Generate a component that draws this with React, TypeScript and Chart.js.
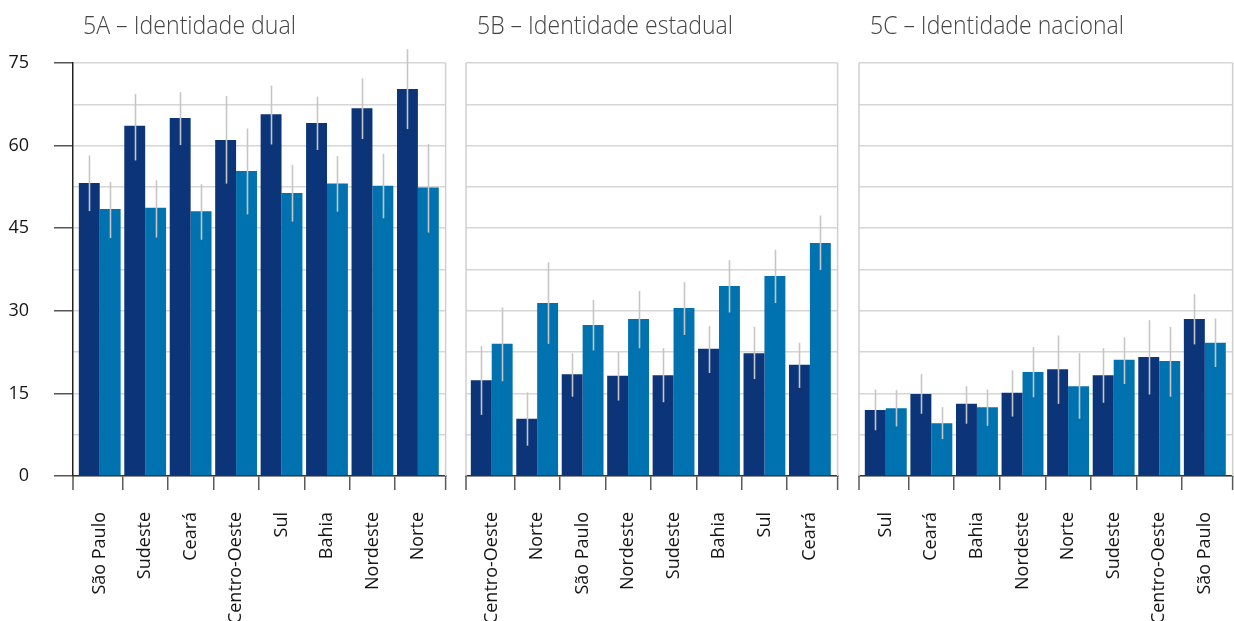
import React, { useEffect, useLayoutEffect, useRef } from 'react';
import { Chart, registerables, CategoryScale } from 'chart.js';

Chart.register(...registerables);

// Category scale whose categories sit slightly inside the plot frame
class InsetCategoryScale extends (CategoryScale as any) {
  static id = 'insetCategory';
  static defaults = (CategoryScale as any).defaults;
  configure() {
    super.configure();
    const o: any = (this as any).options;
    const l = o.insetLeft || 0;
    const r = o.insetRight || 0;
    (this as any)._startPixel += l;
    (this as any)._endPixel -= r;
    (this as any)._length = (this as any)._endPixel - (this as any)._startPixel;
  }
}
Chart.register(InsetCategoryScale as any);

// ---- Data ----
const dualCategories = ['São Paulo', 'Sudeste', 'Ceará', 'Centro-Oeste', 'Sul', 'Bahia', 'Nordeste', 'Norte'];
const dualDark = [53.2, 63.6, 65.0, 61.0, 65.7, 64.1, 66.8, 70.3];
const dualDarkErr = [[48.1, 58.2], [57.3, 69.4], [60.1, 69.7], [53.1, 69.0], [60.2, 70.9], [59.2, 68.9], [61.2, 72.2], [63.0, 77.5]];
const dualLight = [48.5, 48.7, 48.1, 55.4, 51.4, 53.1, 52.7, 52.4];
const dualLightErr = [[43.2, 53.4], [43.3, 53.7], [42.9, 53.0], [47.5, 63.1], [46.2, 56.5], [48.0, 58.1], [46.8, 58.5], [44.2, 60.3]];

const stateCategories = ['Centro-Oeste', 'Norte', 'São Paulo', 'Nordeste', 'Sudeste', 'Bahia', 'Sul', 'Ceará'];
const stateDark = [17.4, 10.4, 18.5, 18.2, 18.3, 23.1, 22.3, 20.2];
const stateDarkErr = [[11.1, 23.6], [5.5, 15.2], [14.4, 22.3], [13.7, 22.6], [13.4, 23.2], [18.7, 27.2], [17.6, 27.1], [16.0, 24.2]];
const stateLight = [24.0, 31.4, 27.4, 28.5, 30.5, 34.5, 36.3, 42.3];
const stateLightErr = [[17.2, 30.6], [24.0, 38.8], [22.8, 32.0], [23.2, 33.6], [25.6, 35.2], [29.7, 39.2], [31.4, 41.1], [37.4, 47.3]];

const nationalCategories = ['Sul', 'Ceará', 'Bahia', 'Nordeste', 'Norte', 'Sudeste', 'Centro-Oeste', 'São Paulo'];
const nationalDark = [12.0, 14.9, 13.1, 15.1, 19.4, 18.3, 21.6, 28.5];
const nationalDarkErr = [[8.3, 15.7], [11.3, 18.5], [9.5, 16.3], [10.8, 19.2], [13.1, 25.5], [13.3, 23.2], [14.8, 28.3], [23.9, 33.0]];
const nationalLight = [12.3, 9.6, 12.5, 18.9, 16.3, 21.1, 20.9, 24.2];
const nationalLightErr = [[9.0, 15.6], [6.7, 12.5], [9.1, 15.7], [14.3, 23.4], [10.4, 22.3], [16.7, 25.2], [14.4, 27.1], [19.8, 28.6]];

const yTickLabels = [0, 15, 30, 45, 60, 75];
const seriesNames = ['Série 1', 'Série 2'];

// ---- Styles ----
const DARK = '#0B3479';
const BLUE = '#0072AF';
const ERR = '#c6c6c6';
const GRID = '#d6d6d6';
const AXIS_TICK = '#5a5a5a';
const FONT = '"Open Sans", "DejaVu Sans", sans-serif';

const errorBarsPlugin = {
  id: 'errorBars',
  afterDatasetsDraw(chart: any, _args: any, opts: any) {
    const errs = opts && opts.errors;
    if (!errs) return;
    const y = chart.scales.y;
    const ctx = chart.ctx;
    ctx.save();
    ctx.strokeStyle = ERR;
    ctx.lineWidth = 1.6;
    errs.forEach((set: number[][], di: number) => {
      const meta = chart.getDatasetMeta(di);
      meta.data.forEach((el: any, i: number) => {
        const e = set[i];
        if (!e) return;
        const x = Math.round(el.x) + 0.5;
        ctx.beginPath();
        ctx.moveTo(x, y.getPixelForValue(e[0]));
        ctx.lineTo(x, y.getPixelForValue(e[1]));
        ctx.stroke();
      });
    });
    ctx.restore();
  },
};

const panelBorderPlugin = {
  id: 'panelBorder',
  afterDatasetsDraw(chart: any, _args: any, opts: any) {
    const { left, right, top, bottom } = chart.chartArea;
    const ctx = chart.ctx;
    ctx.save();
    ctx.strokeStyle = '#cfcfcf';
    ctx.lineWidth = 1.5;
    ctx.beginPath();
    if (opts && opts.left) {
      ctx.moveTo(left, top);
      ctx.lineTo(left, bottom);
    }
    ctx.moveTo(right, top);
    ctx.lineTo(right, bottom);
    ctx.stroke();
    // edge tick marks below the x axis
    ctx.strokeStyle = AXIS_TICK;
    ctx.beginPath();
    ctx.moveTo(left, bottom);
    ctx.lineTo(left, bottom + 14);
    ctx.moveTo(right, bottom);
    ctx.lineTo(right, bottom + 14);
    ctx.stroke();
    ctx.restore();
  },
};

type PanelProps = {
  categories: string[];
  dark: number[];
  darkErr: number[][];
  light: number[];
  lightErr: number[][];
  showY: boolean;
  left: number;
  width: number;
  padLeft: number;
  padRight: number;
  insetLeft: number;
  insetRight: number;
};

function Panel(p: PanelProps) {
  const ref = useRef<HTMLCanvasElement>(null);
  useEffect(() => {
    if (!ref.current) return;
    const chart = new Chart(ref.current, {
      type: 'bar',
      data: {
        labels: p.categories,
        datasets: [
          { label: seriesNames[0], data: p.dark, backgroundColor: DARK, borderWidth: 0 },
          { label: seriesNames[1], data: p.light, backgroundColor: BLUE, borderWidth: 0 },
        ],
      },
      options: {
        responsive: false,
        animation: false,
        layout: { padding: { left: p.padLeft, right: p.padRight, top: 63, bottom: 0 } },
        datasets: { bar: { categoryPercentage: 0.92, barPercentage: 1.0 } },
        plugins: {
          legend: { display: false },
          tooltip: { enabled: false },
          title: { display: false },
          errorBars: { errors: [p.darkErr, p.lightErr] },
          panelBorder: { left: !p.showY },
        } as any,
        scales: {
          x: {
            type: 'insetCategory',
            insetLeft: p.insetLeft,
            insetRight: p.insetRight,
            offset: true,
            grid: {
              offset: true,
              drawOnChartArea: false,
              drawTicks: true,
              tickLength: 14,
              tickColor: (c: any) => (c.tick && c.index > 0 ? AXIS_TICK : 'rgba(0,0,0,0)'),
              lineWidth: 1.5,
            },
            border: { display: true, color: '#333', width: 1.5 },
            ticks: {
              autoSkip: false,
              minRotation: 90,
              maxRotation: 90,
              padding: 22,
              color: '#151515',
              font: { family: FONT, size: 18 },
            },
            afterFit: (s: any) => {
              s.height = 145;
            },
          },
          y: {
            min: 0,
            max: 75,
            ticks: {
              stepSize: 7.5,
              display: p.showY,
              padding: 25,
              color: '#151515',
              font: { family: FONT, size: 18 },
              callback: (v: any) => (yTickLabels.includes(Number(v)) ? String(v) : ''),
            },
            grid: {
              color: GRID,
              lineWidth: 1.5,
              drawTicks: p.showY,
              tickLength: 19,
              tickColor: (c: any) =>
                c.tick && yTickLabels.includes(Number(c.tick.value)) ? '#555' : 'rgba(0,0,0,0)',
            },
            border: { display: p.showY, color: '#222', width: 1.5 },
            afterFit: (s: any) => {
              s.width = p.showY ? 73 : 0;
            },
          },
        },
      } as any,
      plugins: [errorBarsPlugin, panelBorderPlugin],
    });
    return () => chart.destroy();
  }, []);
  return (
    <canvas
      ref={ref}
      width={p.width}
      height={621}
      style={{ position: 'absolute', left: p.left, top: 0, width: p.width, height: 621 }}
    />
  );
}

function Title({ text, left, target }: { text: string; left: number; target: number }) {
  const ref = useRef<HTMLDivElement>(null);
  useLayoutEffect(() => {
    const el = ref.current;
    if (!el) return;
    const w = el.getBoundingClientRect().width;
    if (w > 0) el.style.transform = `scaleX(${target / w})`;
  }, []);
  return (
    <div
      ref={ref}
      style={{
        position: 'absolute',
        left,
        top: 11,
        fontFamily: FONT,
        fontWeight: 300,
        fontSize: 26,
        lineHeight: '26px',
        color: '#444',
        whiteSpace: 'nowrap',
        transformOrigin: 'left top',
      }}
    >
      {text}
    </div>
  );
}

export default function App() {
  return (
    <div
      style={{
        position: 'fixed',
        left: 0,
        top: 0,
        width: 1234,
        height: 621,
        overflow: 'hidden',
        background: '#fff',
      }}
    >
      <Panel categories={dualCategories} dark={dualDark} darkErr={dualDarkErr} light={dualLight} lightErr={dualLightErr}
        showY={true} left={0} width={462} padLeft={0} padRight={5} insetLeft={4} insetRight={5} />
      <Panel categories={stateCategories} dark={stateDark} darkErr={stateDarkErr} light={stateLight} lightErr={stateLightErr}
        showY={false} left={461} width={393} padLeft={5} padRight={5} insetLeft={3} insetRight={5} />
      <Panel categories={nationalCategories} dark={nationalDark} darkErr={nationalDarkErr} light={nationalLight} lightErr={nationalLightErr}
        showY={false} left={854} width={395} padLeft={5} padRight={6} insetLeft={4} insetRight={5} />
      <Title text="5A – Identidade dual" left={83} target={213} />
      <Title text="5B – Identidade estadual" left={477} target={256} />
      <Title text="5C – Identidade nacional" left={870} target={254} />
    </div>
  );
}
